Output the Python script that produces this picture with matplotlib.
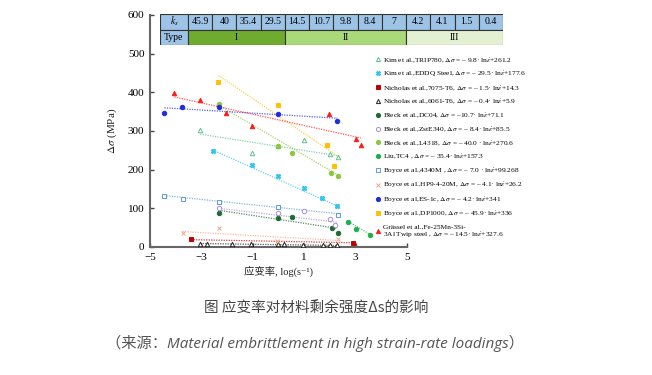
import matplotlib
matplotlib.use("Agg")
import matplotlib.pyplot as plt
from matplotlib.lines import Line2D
from matplotlib.patches import Rectangle

plt.rcParams['font.family'] = ['Liberation Serif', 'Noto Sans CJK SC', 'DejaVu Serif']
plt.rcParams['mathtext.fontset'] = 'stix'

# ---- data ----
ks_values = ['45.9', '40', '35.4', '29.5', '14.5', '10.7', '9.8', '8.4', '7', '4.2', '4.1', '1.5', '0.4']
type_labels = ['I', 'II', 'III']
type_spans = [4, 5, 4]

trip780_x = [-3.05, -1.04, -0.03, 0.99, 2.0, 2.3]
trip780_y = [302, 244, 261, 276, 240, 233]
trip780_fit = ([-3.05, 2.3], [292, 236])

eddq_x = [-2.56, -1.04, -0.03, 0.99, 1.7, 2.29]
eddq_y = [248, 212, 183, 152, 126, 106]
eddq_fit = ([-2.56, 2.29], [251, 106])

al7075_x = [-3.4, 2.91]
al7075_y = [20, 11]
al7075_fit = ([-3.4, 2.91], [19, 11])

al6061_x = [-3.05, -2.79, -1.82, -1.07, -0.01, 0.23, 0.97, 1.74, 2.0, 2.26]
al6061_y = [9, 9, 8, 8, 7, 7, 6, 5, 5, 5]
al6061_fit = ([-3.05, 2.3], [9, 4])

dc04_x = [-2.32, -0.03, 0.51, 2.07, 2.3]
dc04_y = [87, 76, 78, 50, 35]
dc04_fit = ([-2.32, 2.3], [95, 48])

zste340_x = [-2.32, -0.03, 0.99, 2.0, 2.2]
zste340_y = [102, 87, 93, 72, 56]
zste340_fit = ([-2.32, 2.3], [100, 64])

l4318_x = [-2.33, -0.02, 0.51, 2.04, 2.32]
l4318_y = [370, 262, 244, 191, 183]
l4318_fit = ([-2.33, 2.32], [367, 186])

tc4_x = [2.72, 3.0, 3.56]
tc4_y = [64, 46, 31]
tc4_fit = ([2.72, 3.6], [66, 31])

m4340_x = [-4.44, -3.73, -2.33, -0.01, 2.33]
m4340_y = [133, 123, 117, 103, 84]
m4340_fit = ([-4.44, 2.33], [133, 86])

hp9_x = [-3.73, -2.33, -0.05, 2.3]
hp9_y = [37, 50, 15, 20]
hp9_fit = ([-3.73, 2.3], [40, 17])

es1c_x = [-4.44, -3.74, -2.33, -0.01, 2.29]
es1c_y = [347, 362, 362, 345, 325]
es1c_fit = ([-4.44, 2.29], [360, 333])

dp1000_x = [-2.34, -0.01, 1.87, 2.16]
dp1000_y = [427, 367, 264, 209]
dp1000_fit = ([-2.34, 2.3], [444, 235])

twip_x = [-4.05, -3.04, -2.03, -1.03, 1.98, 3.0, 3.2]
twip_y = [397, 379, 347, 313, 345, 279, 263]
twip_fit = ([-4.05, 3.2], [388, 282])

labels = [
    r'Kim et al.,TRIP780, $\Delta\sigma$ = – 9.8· ln$\dot{\varepsilon}$+261.2',
    r'Kim et al.,EDDQ Steel, $\Delta\sigma$ = – 29.5· ln$\dot{\varepsilon}$+177.6',
    r'Nicholas et al.,7075-T6, $\Delta\sigma$ = – 1.5· ln$\dot{\varepsilon}$+14.3',
    r'Nicholas et al.,6061-T6, $\Delta\sigma$ = – 0.4· ln$\dot{\varepsilon}$+5.9',
    r'Bleck et al.,DC04, $\Delta\sigma$ = –10.7· ln$\dot{\varepsilon}$+71.1',
    r'Bleck et al.,ZstE340, $\Delta\sigma$ = – 8.4· ln$\dot{\varepsilon}$+85.5',
    r'Bleck et al.,L4318, $\Delta\sigma$ = – 40.0 · ln$\dot{\varepsilon}$+270.6',
    r'Liu,TC4 , $\Delta\sigma$ = – 35.4· ln$\dot{\varepsilon}$+157.3',
    r'Boyce et al.,4340M , $\Delta\sigma$ = – 7.0 · ln$\dot{\varepsilon}$+99.268',
    r'Boyce et al.,HP9-4-20M, $\Delta\sigma$ = – 4.1· ln$\dot{\varepsilon}$+26.2',
    r'Boyce et al,ES-1c, $\Delta\sigma$ = – 4.2· ln$\dot{\varepsilon}$+341',
    r'Boyce et al.,DP1000, $\Delta\sigma$ = – 45.9· ln$\dot{\varepsilon}$+336',
    'Grässel et al.,Fe-25Mn-3Si-\n' + r'3Al Twip steel , $\Delta\sigma$ = – 14.5· ln$\dot{\varepsilon}$+327.6',
]

series = [
    (trip780_x, trip780_y, trip780_fit, '#5cc38f', '^', False),
    (eddq_x, eddq_y, eddq_fit, '#2ec4f0', 'X', True),
    (al7075_x, al7075_y, al7075_fit, '#c00000', 's', True),
    (al6061_x, al6061_y, al6061_fit, '#222222', '^', False),
    (dc04_x, dc04_y, dc04_fit, '#1e6b34', 'o', True),
    (zste340_x, zste340_y, zste340_fit, '#a58fd6', 'o', False),
    (l4318_x, l4318_y, l4318_fit, '#8dc63f', 'o', True),
    (tc4_x, tc4_y, tc4_fit, '#1fae4e', 'o', True),
    (m4340_x, m4340_y, m4340_fit, '#5b9bd5', 's', False),
    (hp9_x, hp9_y, hp9_fit, '#f4a582', 'x', True),
    (es1c_x, es1c_y, es1c_fit, '#1f2de0', 'o', True),
    (dp1000_x, dp1000_y, dp1000_fit, '#ffc000', 's', True),
    (twip_x, twip_y, twip_fit, '#ff1a1a', '^', True),
]

W, H = 652, 375
fig = plt.figure(figsize=(W / 100, H / 100), dpi=100)

# main axes
ax = fig.add_axes([150 / W, 1 - 247 / H, (407 - 150) / W, (247 - 15) / H])
handles = []
for xs, ys, fit, col, mk, filled in series:
    ax.plot(fit[0], fit[1], linestyle=(0, (1, 1)), color=col, lw=0.9, alpha=0.75)
    fc = col if filled else 'white'
    ax.plot(xs, ys, linestyle='none', marker=mk, markersize=3.2,
            markerfacecolor=fc, markeredgecolor=col, markeredgewidth=0.7, zorder=3)
    handles.append(Line2D([], [], linestyle='none', marker=mk, markersize=3.0,
                          markerfacecolor=fc, markeredgecolor=col, markeredgewidth=0.7))

ax.set_xlim(-5, 5)
ax.set_ylim(0, 600)
ax.set_xticks([-5, -3, -1, 1, 3, 5])
ax.set_xticklabels(['−5', '−3', '−1', '1', '3', '5'])
ax.set_yticks(range(0, 601, 100))
for s in ['top', 'right']:
    ax.spines[s].set_visible(False)
for s in ['left', 'bottom']:
    ax.spines[s].set_color('#666666')
    ax.spines[s].set_linewidth(1.5)
ax.tick_params(direction='in', length=3, width=1, color='#444444', labelsize=8, pad=4)
ax.set_xlabel('应变率, log(s⁻¹)', fontsize=7.5, labelpad=3, color='#222222')
ax.set_ylabel(r'$\Delta\sigma$ (MPa)', fontsize=8, labelpad=6, color='#222222')

ax.legend(handles, labels, loc='upper left', bbox_to_anchor=(372 / W, 1 - 52 / H),
          bbox_transform=fig.transFigure, frameon=False, fontsize=5.3,
          handlelength=0.6, handletextpad=0.4, labelspacing=0.66, borderpad=0)

# table at the top
tx0, tx1, ty0, ty1 = 160, 503, 14, 45
tax = fig.add_axes([tx0 / W, 1 - ty1 / H, (tx1 - tx0) / W, (ty1 - ty0) / H])
tw, th = tx1 - tx0, ty1 - ty0
tax.set_xlim(0, tw)
tax.set_ylim(0, th)
tax.axis('off')
first_w = 28
col_w = (tw - first_w) / len(ks_values)
row_h = th / 2
edge = '#333333'
blue = '#9dc3e6'
tax.add_patch(Rectangle((0, row_h), first_w, row_h, facecolor=blue, edgecolor=edge, lw=0.8))
tax.text(first_w / 2, row_h * 1.5, r'$k_s$', ha='center', va='center', fontsize=7)
for i, v in enumerate(ks_values):
    x = first_w + i * col_w
    tax.add_patch(Rectangle((x, row_h), col_w, row_h, facecolor=blue, edgecolor=edge, lw=0.8))
    tax.text(x + col_w / 2, row_h * 1.5, v, ha='center', va='center', fontsize=7)
tax.add_patch(Rectangle((0, 0), first_w, row_h, facecolor=blue, edgecolor=edge, lw=0.8))
tax.text(first_w / 2, row_h * 0.5, 'Type', ha='center', va='center', fontsize=7)
type_colors = ['#6fab2e', '#a9d978', '#e3f1d2']
x = first_w
for lab, span, c in zip(type_labels, type_spans, type_colors):
    tax.add_patch(Rectangle((x, 0), span * col_w, row_h, facecolor=c, edgecolor=edge, lw=0.8))
    tax.text(x + span * col_w / 2, row_h * 0.5, lab, ha='center', va='center', fontsize=7)
    x += span * col_w

# captions
fig.text(316 / W, 1 - 309 / H, '图 应变率对材料剩余强度Δs的影响', ha='center', va='center',
         fontsize=10.5, color='#444444', style='italic',
         family=['Noto Sans CJK SC', 'DejaVu Sans'])
fig.text(315 / W, 1 - 343 / H, '（来源：Material embrittlement in high strain-rate loadings）',
         ha='center', va='center', fontsize=11, color='#555555', style='italic',
         family=['Open Sans', 'Noto Sans CJK SC'])

fig.savefig('out.png', dpi=100)
